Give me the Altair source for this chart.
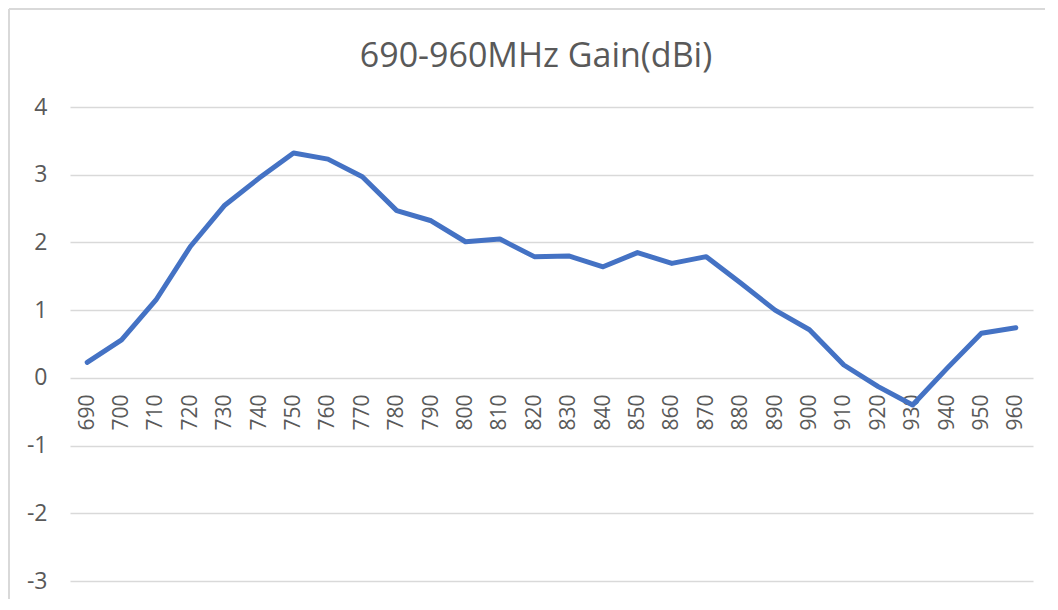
import altair as alt
import pandas as pd

freqs = [690, 700, 710, 720, 730, 740, 750, 760, 770, 780, 790, 800, 810, 820,
         830, 840, 850, 860, 870, 880, 890, 900, 910, 920, 930, 940, 950, 960]
gain = [0.23, 0.56, 1.15, 1.94, 2.55, 2.95, 3.32, 3.23, 2.97, 2.47, 2.32, 2.01,
        2.05, 1.79, 1.80, 1.64, 1.85, 1.69, 1.79, 1.40, 1.00, 0.71, 0.19, -0.13,
        -0.40, 0.14, 0.66, 0.74]
y_ticks = [-3, -2, -1, 0, 1, 2, 3, 4]
title_text = "690-960MHz Gain(dBi)"

df = pd.DataFrame({"freq": [str(f) for f in freqs], "gain": gain})

W, H = 963, 474
GRAY = "#595959"

line = alt.Chart(df).mark_line(
    color="#4472C4", strokeWidth=5, strokeCap="round", strokeJoin="round"
).encode(
    x=alt.X("freq:O", sort=None, scale=alt.Scale(type="point", padding=0.5),
            axis=alt.Axis(title=None, labelAngle=-90, domain=False, ticks=False,
                          grid=False, labelPadding=16, labelFontSize=21,
                          labelColor=GRAY, labelFont="Open Sans", offset=-203)),
    y=alt.Y("gain:Q", scale=alt.Scale(domain=[-3, 4], nice=False, zero=False),
            axis=alt.Axis(title=None, values=y_ticks, domain=False, ticks=False,
                          labelPadding=23, labelFontSize=23, labelColor=GRAY,
                          labelFont="Open Sans", gridColor="#d9d9d9",
                          gridWidth=1.5, labelExpr="'' + datum.value")),
)

left_border = alt.Chart(df).mark_rule(color="#d9d9d9", strokeWidth=2).encode(
    x=alt.value(-61), y=alt.value(-98), y2=alt.value(H + 20)
)
top_border = alt.Chart(df).mark_rule(color="#d9d9d9", strokeWidth=2).encode(
    x=alt.value(-61), x2=alt.value(W + 12), y=alt.value(-98)
)
title = alt.Chart(pd.DataFrame({"t": [title_text]})).mark_text(
    fontSize=34, font="Open Sans", color=GRAY, align="center",
    baseline="alphabetic"
).encode(text="t:N", x=alt.value(466), y=alt.value(-40))

chart = alt.layer(left_border, top_border, title, line).properties(
    width=W, height=H,
    padding={"left": 62, "top": 99, "right": 12, "bottom": 18},
    autosize=alt.AutoSizeParams(type="none"),
).configure_view(stroke=None)

chart.save("out.html", embed_options={"renderer": "svg", "actions": False})
